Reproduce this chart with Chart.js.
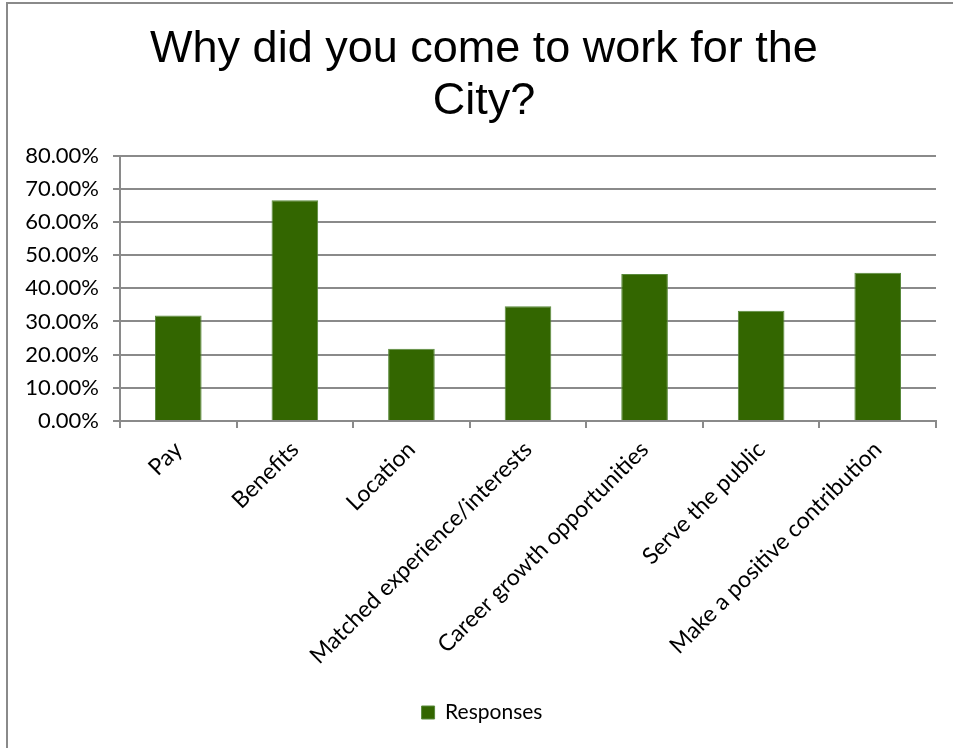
<!DOCTYPE html>
<html>
<head>
<meta charset="utf-8">
<script src="https://cdn.jsdelivr.net/npm/chart.js@4.4.0/dist/chart.umd.min.js"></script>
<style>
  html, body { margin: 0; padding: 0; background: #fff; overflow: hidden; }
  #frame {
    position: absolute; left: 6px; top: 2px; width: 1000px; height: 800px;
    border-left: 2px solid #8a8a8a; border-top: 2px solid #8a8a8a;
  }
  #wrap { position: absolute; left: 0; top: 0; width: 953px; height: 748px; }
</style>
</head>
<body>
<div id="frame"></div>
<div id="wrap"><canvas id="mycanvas"></canvas></div>
<script>
var reasons = ["Pay", "Benefits", "Location", "Matched experience/interests",
  "Career growth opportunities", "Serve the public", "Make a positive contribution"];
var responses = [31.8, 66.5, 21.8, 34.6, 44.3, 33.2, 44.7];
var yTicks = [0, 10, 20, 30, 40, 50, 60, 70, 80];

// title and legend sit a little right of the canvas centre
var shiftBlocks = {
  id: 'shiftBlocks',
  afterLayout: function(chart) {
    if (chart.titleBlock) {
      chart.titleBlock.left += 9;
      chart.titleBlock.right += 9;
    }
    if (chart.legend) {
      chart.legend.left += 7;
      chart.legend.right += 7;
    }
  }
};

var chartdata = {
  labels: reasons,
  datasets: [
    {
      label: "Responses",
      backgroundColor: "#336600",
      borderColor: "#5a8a3c",
      borderWidth: 1,
      barPercentage: 0.4,
      categoryPercentage: 1.0,
      data: responses
    }
  ]
};

var ctx = document.getElementById("mycanvas");

var barGraph = new Chart(ctx, {
  type: 'bar',
  data: chartdata,
  plugins: [shiftBlocks],
  options: {
    responsive: true,
    maintainAspectRatio: false,
    animation: false,
    layout: { padding: { left: 14, right: 17, top: 0, bottom: 15 } },
    plugins: {
      title: {
        display: true,
        text: ["Why did you come to work for the", "City?"],
        color: "#000",
        font: { family: "Liberation Sans", size: 45, weight: "normal", lineHeight: 1.15 },
        padding: { top: 24, bottom: 28 }
      },
      legend: {
        position: 'bottom',
        labels: {
          color: "#000",
          font: { family: "Lato", size: 21 },
          boxWidth: 13,
          boxHeight: 13,
          padding: 10
        }
      },
      tooltip: { enabled: false }
    },
    scales: {
      x: {
        afterFit: function(axis) { axis.height = 271; },
        grid: {
          offset: true,
          drawOnChartArea: false,
          color: "#8a8a8a",
          lineWidth: 2,
          tickLength: 7
        },
        border: { color: "#8a8a8a", width: 2 },
        ticks: {
          color: "#000",
          font: { family: "Lato", size: 23 },
          minRotation: 45,
          maxRotation: 45,
          autoSkip: false,
          padding: 8
        }
      },
      y: {
        min: 0,
        max: 80,
        afterBuildTicks: function(axis) {
          axis.ticks = yTicks.map(function(v) { return { value: v }; });
        },
        afterFit: function(axis) { axis.width = 106; },
        grid: {
          color: "#8a8a8a",
          lineWidth: 2,
          tickLength: 7
        },
        border: { color: "#8a8a8a", width: 2 },
        ticks: {
          color: "#000",
          font: { family: "Lato", size: 22 },
          padding: 14,
          callback: function(value) { return value.toFixed(2) + "%"; }
        }
      }
    }
  }
});
</script>
</body>
</html>
